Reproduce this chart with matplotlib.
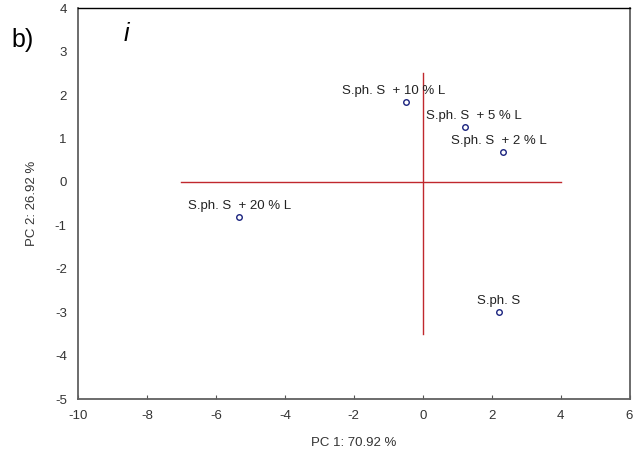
import numpy as np
import matplotlib.pyplot as plt

plt.rcParams['font.family'] = ['Liberation Sans', 'DejaVu Sans']
plt.rcParams['axes.unicode_minus'] = False

# PCA scores
labels = ["S.ph. S  + 10 % L", "S.ph. S  + 5 % L", "S.ph. S  + 2 % L",
          "S.ph. S  + 20 % L", "S.ph. S"]
pc1 = [-0.49, 1.24, 2.34, -5.32, 2.20]
pc2 = [1.84, 1.26, 0.69, -0.80, -2.99]
# horizontal label shift in points (layout only)
lab_dx = [-9, 6, -3, 0, 0]

xticks = [-10, -8, -6, -4, -2, 0, 2, 4, 6]
yticks = [-5, -4, -3, -2, -1, 0, 1, 2, 3, 4]

fig = plt.figure(figsize=(6.34, 4.55), dpi=100)
ax = fig.add_axes([0.123, 0.123, 0.87, 0.859])

# red reference cross
ax.plot([-7, 4], [0, 0], color='#c0282d', lw=1)
ax.plot([0, 0], [-3.5, 2.5], color='#c0282d', lw=1)

ax.plot(pc1, pc2, 'o', ms=4, mfc='none', mec='#1a237e', mew=1)
for x, y, s, dx in zip(pc1, pc2, labels, lab_dx):
    ax.annotate(s, (x, y), xytext=(dx, 8), textcoords='offset points',
                ha='center', va='center', fontsize=9.5, color='#222222')

ax.set_xlim(-10, 6)
ax.set_ylim(-5, 4)
ax.set_xticks(xticks)
ax.set_yticks(yticks)
ax.tick_params(axis='x', direction='in', length=3, color='#555555',
               labelsize=9.5, pad=8, labelcolor='#333333')
ax.tick_params(axis='y', length=0, labelsize=9.5, pad=8, labelcolor='#333333')

for sp in ['left', 'bottom', 'right']:
    ax.spines[sp].set_color('#606060')
    ax.spines[sp].set_linewidth(1.3)
ax.spines['top'].set_color('black')
ax.spines['top'].set_linewidth(1)

ax.set_xlabel('PC 1: 70.92 %', fontsize=9.5, labelpad=11, color='#333333')
ax.set_ylabel('PC 2: 26.92 %', fontsize=9.5, labelpad=12, color='#333333')

ax.text(-8.6, 3.4, 'i', fontsize=18, style='italic', ha='center', va='center')
fig.text(0.035, 0.912, 'b)', fontsize=18, ha='center', va='center')

fig.savefig('out.png', dpi=100)
